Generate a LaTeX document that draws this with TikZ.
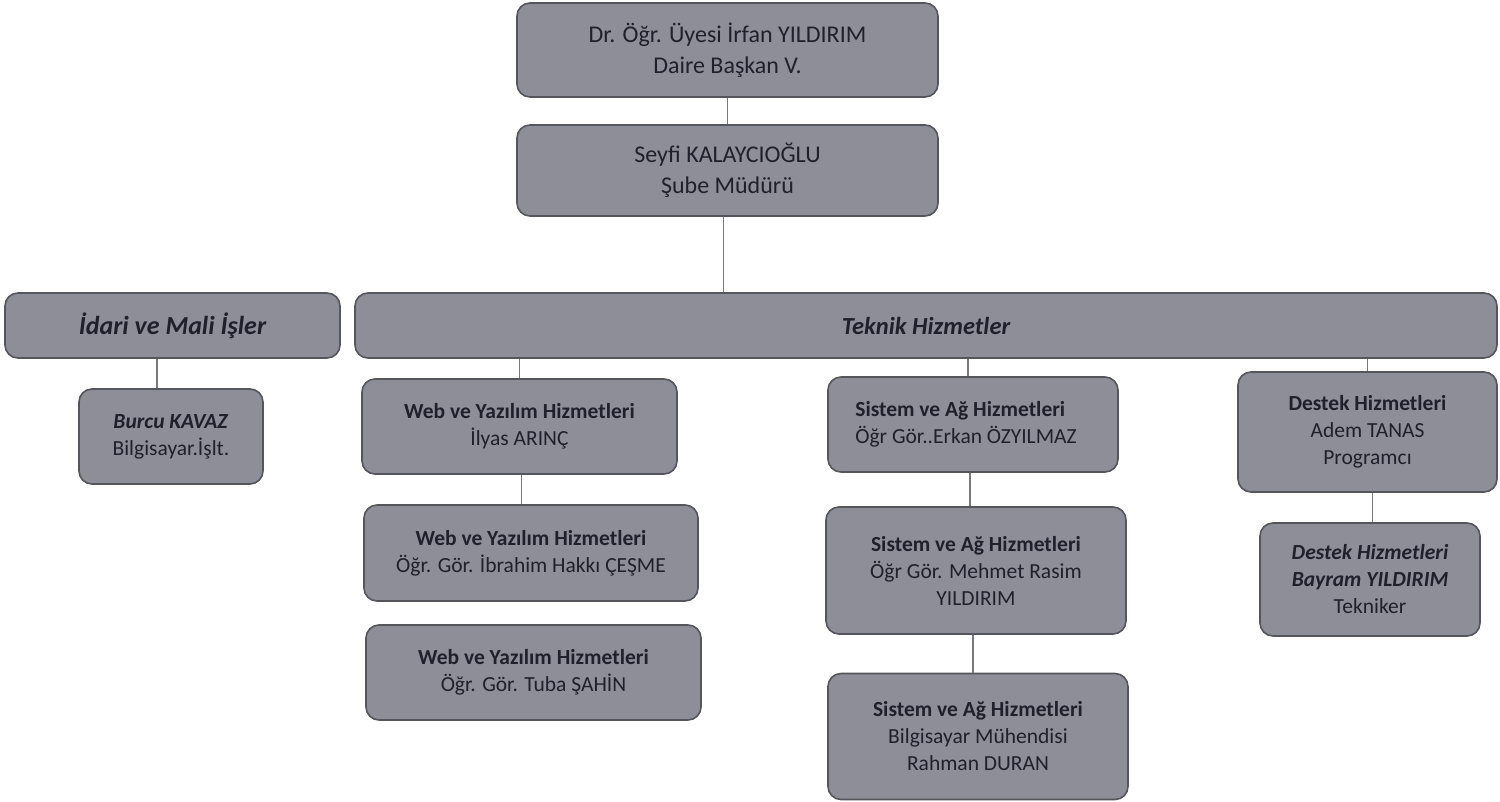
\documentclass[tikz,border=0pt]{standalone}
\usepackage{fontspec}
\setmainfont{Carlito}
\definecolor{boxfill}{RGB}{142,142,152}
\definecolor{boxline}{RGB}{85,85,92}
\definecolor{txt}{RGB}{32,32,44}
\definecolor{conn}{RGB}{120,120,128}
\begin{document}
\begin{tikzpicture}[x=1pt,y=-1pt,
  box/.style={draw=boxline, line width=1.6pt, fill=boxfill, rounded corners=13pt,
    text=txt, align=center, inner sep=4pt, font=\fontsize{21.5}{27}\selectfont},
  bigbox/.style={box, font=\fontsize{24}{31}\selectfont},
  conn/.style={draw=conn, line width=1.1pt}]
\useasboundingbox (0,0) rectangle (1500,801);
\node[bigbox, minimum width=421pt, minimum height=94pt] (top) at (727.5,50) {Dr. Öğr. Üyesi İrfan YILDIRIM\\Daire Başkan V.};
\node[bigbox, minimum width=421pt, minimum height=91pt] (seyfi) at (727.5,170.5) {Seyfi KALAYCIOĞLU\\Şube Müdürü};
\node[box, minimum width=335pt, minimum height=65pt, font=\fontsize{26}{30}\selectfont\bfseries\itshape] (idari) at (172.5,325.5) {İdari ve Mali İşler};
\node[box, minimum width=1142pt, minimum height=65pt, font=\fontsize{24.5}{30}\selectfont\bfseries\itshape] (teknik) at (926,325.5) {Teknik Hizmetler};
\node[box, minimum width=184pt, minimum height=95pt] (burcu) at (171,436.5) {\textbf{\textit{Burcu KAVAZ}}\\Bilgisayar.İşlt.};
\node[box, minimum width=315pt, minimum height=95pt] (web1) at (519.5,426.5) {\textbf{Web ve Yazılım Hizmetleri}\\İlyas ARINÇ};
\node[box, minimum width=334pt, minimum height=96pt] (web2) at (531,553) {\textbf{Web ve Yazılım Hizmetleri}\\Öğr. Gör. İbrahim Hakkı ÇEŞME};
\node[box, minimum width=335pt, minimum height=95pt] (web3) at (533.5,672.5) {\textbf{Web ve Yazılım Hizmetleri}\\Öğr. Gör. Tuba ŞAHİN};
\node[box, minimum width=290pt, minimum height=95pt, align=left] (sis1) at (973,424.5) {\textbf{Sistem ve Ağ Hizmetleri}\\Öğr Gör..Erkan ÖZYILMAZ\hspace*{14pt}};
\node[box, minimum width=300pt, minimum height=127pt] (sis2) at (976,570.5) {\textbf{Sistem ve Ağ Hizmetleri}\\Öğr Gör. Mehmet Rasim\\YILDIRIM};
\node[box, minimum width=300pt, minimum height=126pt] (sis3) at (978,736.5) {\textbf{Sistem ve Ağ Hizmetleri}\\Bilgisayar Mühendisi\\Rahman DURAN};
\node[box, minimum width=259pt, minimum height=120pt] (des1) at (1367.5,432) {\textbf{Destek Hizmetleri}\\Adem TANAS\\Programcı};
\node[box, minimum width=220pt, minimum height=113pt] (des2) at (1370,579.5) {\textbf{\textit{Destek Hizmetleri}}\\\textbf{\textit{Bayram YILDIRIM}}\\Tekniker};
% connectors
\draw[conn] (top.south) -- (seyfi.north);
\draw[conn] ([xshift=-4pt]seyfi.south) -- ([xshift=-4pt]seyfi.south |- teknik.north);
\draw[conn] ([xshift=-14pt]burcu.north) -- ([xshift=-14pt]burcu.north |- idari.south);
\draw[conn] (web1.north) -- (web1.north |- teknik.south);
\draw[conn] ([xshift=-5pt]sis1.north) -- ([xshift=-5pt]sis1.north |- teknik.south);
\draw[conn] (des1.north) -- (des1.north |- teknik.south);
\draw[conn] ([xshift=2pt]web1.south) -- ([xshift=2pt]web1.south |- web2.north);
\draw[conn] ([xshift=-3pt]sis1.south) -- ([xshift=-3pt]sis1.south |- sis2.north);
\draw[conn] ([xshift=-3pt]sis2.south) -- ([xshift=-3pt]sis2.south |- sis3.north);
\draw[conn] ([xshift=5pt]des1.south) -- ([xshift=5pt]des1.south |- des2.north);
\end{tikzpicture}
\end{document}
